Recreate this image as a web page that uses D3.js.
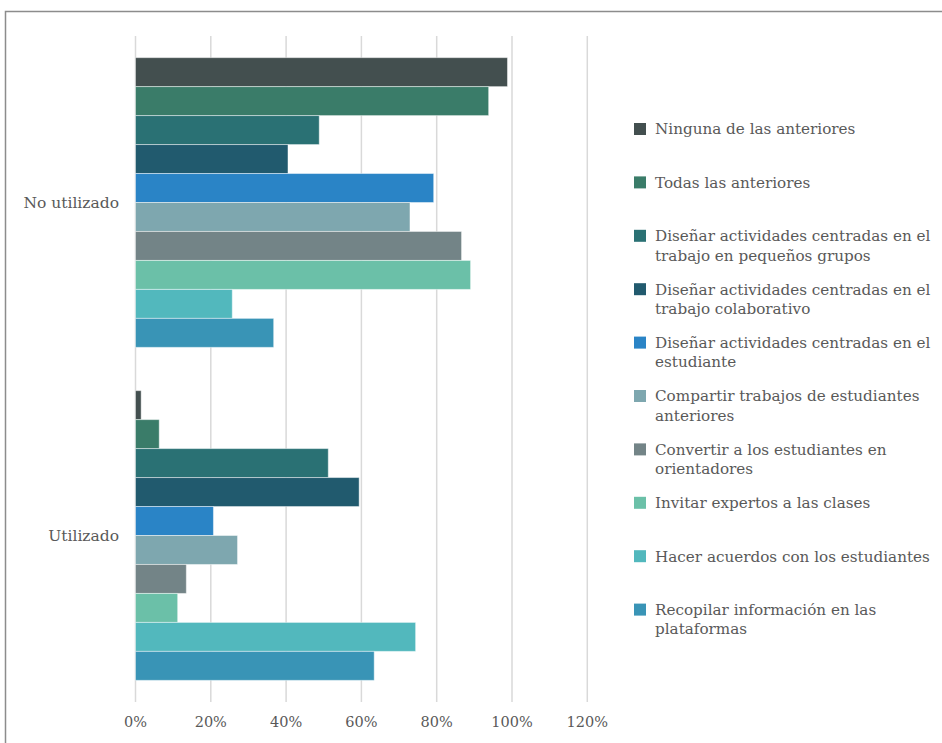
<!DOCTYPE html>
<html lang="es">
<head>
<meta charset="utf-8">
<title>Estrategias utilizadas</title>
<style>
  body { margin: 0; padding: 0; background: #fff; }
  #chart svg { display: block; }
  text { font-family: "DejaVu Serif", Georgia, serif; fill: #595959; }
</style>
</head>
<body>
<div id="chart"></div>
<script src="https://d3js.org/d3.v7.min.js"></script>
<script>

// categories on the y axis
var categories = ['No utilizado', 'Utilizado'];

// series names, in legend order
var series = [
  'Ninguna de las anteriores',
  'Todas las anteriores',
  'Diseñar actividades centradas en el trabajo en pequeños grupos',
  'Diseñar actividades centradas en el trabajo colaborativo',
  'Diseñar actividades centradas en el estudiante',
  'Compartir trabajos de estudiantes anteriores',
  'Convertir a los estudiantes en orientadores',
  'Invitar expertos a las clases',
  'Hacer acuerdos con los estudiantes',
  'Recopilar información en las plataformas'
];

// legend labels split into lines as in the original
var legendLines = [
  ['Ninguna de las anteriores'],
  ['Todas las anteriores'],
  ['Diseñar actividades centradas en el', 'trabajo en pequeños grupos'],
  ['Diseñar actividades centradas en el', 'trabajo colaborativo'],
  ['Diseñar actividades centradas en el', 'estudiante'],
  ['Compartir trabajos de estudiantes', 'anteriores'],
  ['Convertir a los estudiantes en', 'orientadores'],
  ['Invitar expertos a las clases'],
  ['Hacer acuerdos con los estudiantes'],
  ['Recopilar información en las', 'plataformas']
];

// percentages, one per series
var noUtilizado = [98.8, 93.8, 48.8, 40.5, 79.2, 72.9, 86.6, 89.0, 25.7, 36.7];
var utilizado   = [1.5, 6.3, 51.2, 59.4, 20.7, 27.1, 13.5, 11.2, 74.4, 63.4];

var colors = ['#434f4f', '#3a7c69', '#2a7174', '#215a6e', '#2a84c6',
              '#7ea7af', '#738487', '#6bc0a8', '#52b8bd', '#3994b6'];

var tickValues = [0, 20, 40, 60, 80, 100, 120];

var width = 942, height = 743;

var svg = d3.select('#chart').append('svg')
  .attr('width', width)
  .attr('height', height);

// outer frame (runs off the right and bottom of the picture)
svg.append('rect')
  .attr('x', 5.5).attr('y', 11.5)
  .attr('width', 960).attr('height', 760)
  .attr('fill', 'none')
  .attr('stroke', '#8c8c8c')
  .attr('stroke-width', 1.5);

var x = d3.scaleLinear().domain([0, 120]).range([135.5, 587.3]);

var y0 = d3.scaleBand().domain(categories).range([36, 702])
  .paddingInner(0.13).paddingOuter(0.065);

var y1 = d3.scaleBand().domain(d3.range(series.length))
  .range([0, y0.bandwidth()]);

var color = d3.scaleOrdinal().domain(d3.range(series.length)).range(colors);

// gridlines
svg.append('g').selectAll('line')
  .data(tickValues)
  .join('line')
  .attr('x1', function(d) { return x(d); })
  .attr('x2', function(d) { return x(d); })
  .attr('y1', 36).attr('y2', 702)
  .attr('stroke', '#d9d9d9')
  .attr('stroke-width', 1.5);

// tick labels
svg.append('g').selectAll('text')
  .data(tickValues)
  .join('text')
  .attr('x', function(d) { return x(d); })
  .attr('y', 727)
  .attr('text-anchor', 'middle')
  .style('font-size', '14.5px')
  .text(function(d) { return d + '%'; });

var rows = categories.map(function(c, i) {
  return { cat: c, values: i === 0 ? noUtilizado : utilizado };
});

var groups = svg.append('g').selectAll('g')
  .data(rows)
  .join('g')
  .attr('transform', function(d) { return 'translate(0,' + y0(d.cat) + ')'; });

groups.selectAll('rect')
  .data(function(d) { return d.values; })
  .join('rect')
  .attr('x', x(0))
  .attr('y', function(d, i) { return y1(i); })
  .attr('width', function(d) { return x(d) - x(0); })
  .attr('height', y1.bandwidth())
  .attr('fill', function(d, i) { return color(i); })
  .attr('stroke', 'rgba(255,255,255,0.45)')
  .attr('stroke-width', 1);

// category labels
svg.append('g').selectAll('text')
  .data(categories)
  .join('text')
  .attr('x', 119)
  .attr('y', function(d) { return y0(d) + y0.bandwidth() / 2; })
  .attr('dy', '0.35em')
  .attr('text-anchor', 'end')
  .style('font-size', '15.5px')
  .text(function(d) { return d; });

// legend
var legend = svg.append('g').selectAll('g')
  .data(legendLines)
  .join('g')
  .attr('transform', function(d, i) { return 'translate(634,' + (129 + i * 53.4) + ')'; });

legend.append('rect')
  .attr('x', 0).attr('y', -6)
  .attr('width', 12).attr('height', 12)
  .attr('fill', function(d, i) { return color(i); });

legend.append('text')
  .attr('x', 21)
  .attr('y', 0)
  .style('font-size', '15.2px')
  .selectAll('tspan')
  .data(function(d) { return d; })
  .join('tspan')
  .attr('x', 21)
  .attr('y', function(d, i) { return i * 19.5; })
  .attr('dy', '0.35em')
  .text(function(d) { return d; });

</script>
</body>
</html>
